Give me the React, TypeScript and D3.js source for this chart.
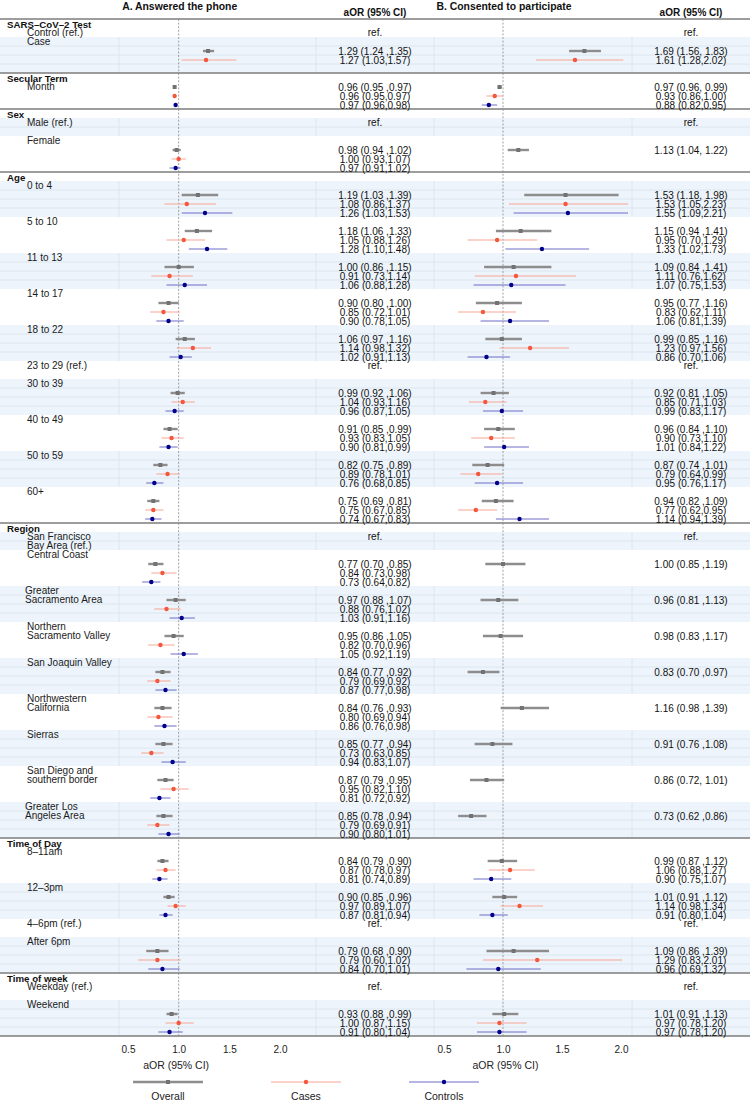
import React, { useRef, useEffect } from 'react';
import * as d3 from 'd3';

// Section headings, in table order
const sections = ['SARS–CoV–2 Test', 'Secular Term', 'Sex', 'Age', 'Region', 'Time of Day', 'Time of week'];

// Table items ("\n" puts a label over two rows)
const itemLabels = [
  'Control (ref.)', 'Case',
  'Month',
  'Male (ref.)', 'Female',
  '0 to 4', '5 to 10', '11 to 13', '14 to 17', '18 to 22', '23 to 29 (ref.)', '30 to 39', '40 to 49', '50 to 59', '60+',
  'San Francisco\nBay Area (ref.)', 'Central Coast', 'Greater\nSacramento Area', 'Northern\nSacramento Valley',
  'San Joaquin Valley', 'Northwestern\nCalifornia', 'Sierras', 'San Diego and\nsouthern border', 'Greater Los\nAngeles Area',
  '8–11am', '12–3pm', '4–6pm (ref.)', 'After 6pm',
  'Weekday (ref.)', 'Weekend',
];
const itemSection = [0, 0, 1, 2, 2, 3, 3, 3, 3, 3, 3, 3, 3, 3, 3, 4, 4, 4, 4, 4, 4, 4, 4, 4, 5, 5, 5, 5, 6, 6];

// aOR [estimate, lower, upper] per item; null = reference level / not estimated
type Est = number[] | null;

const phoneOverall: Est[] = [
  null, [1.29, 1.24, 1.35],
  [0.96, 0.95, 0.97],
  null, [0.98, 0.94, 1.02],
  [1.19, 1.03, 1.39], [1.18, 1.06, 1.33], [1.00, 0.86, 1.15], [0.90, 0.80, 1.00], [1.06, 0.97, 1.16], null,
  [0.99, 0.92, 1.06], [0.91, 0.85, 0.99], [0.82, 0.75, 0.89], [0.75, 0.69, 0.81],
  null, [0.77, 0.70, 0.85], [0.97, 0.88, 1.07], [0.95, 0.86, 1.05], [0.84, 0.77, 0.92], [0.84, 0.76, 0.93],
  [0.85, 0.77, 0.94], [0.87, 0.79, 0.95], [0.85, 0.78, 0.94],
  [0.84, 0.79, 0.90], [0.90, 0.85, 0.96], null, [0.79, 0.68, 0.90],
  null, [0.93, 0.88, 0.99],
];
const phoneCases: Est[] = [
  null, [1.27, 1.03, 1.57],
  [0.96, 0.95, 0.97],
  null, [1.00, 0.93, 1.07],
  [1.08, 0.86, 1.37], [1.05, 0.88, 1.26], [0.91, 0.73, 1.14], [0.85, 0.72, 1.01], [1.14, 0.98, 1.32], null,
  [1.04, 0.93, 1.16], [0.93, 0.83, 1.05], [0.89, 0.78, 1.01], [0.75, 0.67, 0.85],
  null, [0.84, 0.73, 0.98], [0.88, 0.76, 1.02], [0.82, 0.70, 0.96], [0.79, 0.69, 0.92], [0.80, 0.69, 0.94],
  [0.73, 0.63, 0.85], [0.95, 0.82, 1.10], [0.79, 0.69, 0.91],
  [0.87, 0.78, 0.97], [0.97, 0.89, 1.07], null, [0.79, 0.60, 1.02],
  null, [1.00, 0.87, 1.15],
];
const phoneControls: Est[] = [
  null, null,
  [0.97, 0.96, 0.98],
  null, [0.97, 0.91, 1.02],
  [1.26, 1.03, 1.53], [1.28, 1.10, 1.48], [1.06, 0.88, 1.28], [0.90, 0.78, 1.05], [1.02, 0.91, 1.13], null,
  [0.96, 0.87, 1.05], [0.90, 0.81, 0.99], [0.76, 0.68, 0.85], [0.74, 0.67, 0.83],
  null, [0.73, 0.64, 0.82], [1.03, 0.91, 1.16], [1.05, 0.92, 1.19], [0.87, 0.77, 0.98], [0.86, 0.76, 0.98],
  [0.94, 0.83, 1.07], [0.81, 0.72, 0.92], [0.90, 0.80, 1.01],
  [0.81, 0.74, 0.89], [0.87, 0.81, 0.94], null, [0.84, 0.70, 1.01],
  null, [0.91, 0.80, 1.04],
];

const consentOverall: Est[] = [
  null, [1.69, 1.56, 1.83],
  [0.97, 0.96, 0.99],
  null, [1.13, 1.04, 1.22],
  [1.53, 1.18, 1.98], [1.15, 0.94, 1.41], [1.09, 0.84, 1.41], [0.95, 0.77, 1.16], [0.99, 0.85, 1.16], null,
  [0.92, 0.81, 1.05], [0.96, 0.84, 1.10], [0.87, 0.74, 1.01], [0.94, 0.82, 1.09],
  null, [1.00, 0.85, 1.19], [0.96, 0.81, 1.13], [0.98, 0.83, 1.17], [0.83, 0.70, 0.97], [1.16, 0.98, 1.39],
  [0.91, 0.76, 1.08], [0.86, 0.72, 1.01], [0.73, 0.62, 0.86],
  [0.99, 0.87, 1.12], [1.01, 0.91, 1.12], null, [1.09, 0.86, 1.39],
  null, [1.01, 0.91, 1.13],
];
const consentCases: Est[] = [
  null, [1.61, 1.28, 2.02],
  [0.93, 0.86, 1.00],
  null, null,
  [1.53, 1.05, 2.23], [0.95, 0.70, 1.29], [1.11, 0.76, 1.62], [0.83, 0.62, 1.11], [1.23, 0.97, 1.56], null,
  [0.85, 0.71, 1.03], [0.90, 0.73, 1.10], [0.79, 0.64, 0.99], [0.77, 0.62, 0.95],
  null, null, null, null, null, null, null, null, null,
  [1.06, 0.88, 1.27], [1.14, 0.98, 1.34], null, [1.29, 0.83, 2.01],
  null, [0.97, 0.78, 1.20],
];
const consentControls: Est[] = [
  null, null,
  [0.88, 0.82, 0.95],
  null, null,
  [1.55, 1.09, 2.21], [1.33, 1.02, 1.73], [1.07, 0.75, 1.53], [1.06, 0.81, 1.39], [0.86, 0.70, 1.06], null,
  [0.99, 0.83, 1.17], [1.01, 0.84, 1.22], [0.95, 0.76, 1.17], [1.14, 0.94, 1.39],
  null, null, null, null, null, null, null, null, null,
  [0.90, 0.75, 1.07], [0.91, 0.80, 1.04], null, [0.96, 0.69, 1.32],
  null, [0.97, 0.78, 1.20],
];
// items whose consent "overall" label is written "(lo, hi)" instead of "(lo ,hi)"
const consentSpacedAfterComma = [1, 2, 4, 5, 22];

const panelTitles = ['A. Answered the phone', 'B. Consented to participate'];
const tickValues = [0.5, 1.0, 1.5, 2.0];
const legendLabels = ['Overall', 'Cases', 'Controls'];

const FONT = "'Liberation Sans Narrow', 'Arial Narrow', 'Liberation Sans', Arial, sans-serif";
const W = 750;
const H = 1102;

const ForestPlot = () => {
  const ref = useRef<SVGSVGElement>(null);

  useEffect(() => {
    const svg = d3.select(ref.current);
    svg.selectAll('*').remove();

    const tableTop = 19;
    const rowH = 9;
    const rowY = (r: number) => tableTop + r * rowH;

    // rows taken by each item (label row + 3 estimate rows, fewer for refs / Month)
    const itemRowSpan = itemLabels.map((lab, i) => {
      if (i === 0) return 1;
      if (lab === 'Month') return 3;
      if (lab.includes('(ref.)')) return 2;
      return 4;
    });

    // work out row positions
    const sectionRow: number[] = [];
    const itemStart: number[] = [];
    let r = 0;
    sections.forEach((_, si) => {
      sectionRow.push(r);
      r += 1;
      itemLabels.forEach((_, i) => {
        if (itemSection[i] === si) {
          itemStart[i] = r;
          r += itemRowSpan[i];
        }
      });
    });
    const totalRows = r;
    const tableBottom = rowY(totalRows);

    const xA = d3.scaleLinear().domain([0.5, 2]).range([128, 280]);
    const xB = d3.scaleLinear().domain([0.5, 2]).range([444, 621]);
    const gridXs = [119, 316, 434, 632];

    const f2 = d3.format('.2f');
    const series = [
      { lineColor: '#8d8d8d', lineWidth: 2.4, markColor: '#727272', square: true },
      { lineColor: '#f8a594', lineWidth: 1, markColor: '#f4573c', square: false },
      { lineColor: '#6c6cc8', lineWidth: 1, markColor: '#00008b', square: false },
    ];

    const panels = [
      {
        x: xA, clip: [119, 316], textX: 375, titleShift: -2.5,
        data: [phoneOverall, phoneCases, phoneControls],
        fmt: (d: number[], s: number) => s === 0
          ? `${f2(d[0])} (${f2(d[1])} ,${f2(d[2])})`
          : `${f2(d[0])} (${f2(d[1])},${f2(d[2])})`,
      },
      {
        x: xB, clip: [434, 628], textX: 691, titleShift: 2.5,
        data: [consentOverall, consentCases, consentControls],
        fmt: (d: number[], s: number, i: number) => {
          if (s !== 0) return `${f2(d[0])} (${f2(d[1])},${f2(d[2])})`;
          return consentSpacedAfterComma.includes(i)
            ? `${f2(d[0])} (${f2(d[1])}, ${f2(d[2])})`
            : `${f2(d[0])} (${f2(d[1])} ,${f2(d[2])})`;
        },
      },
    ];

    // Shaded bands for every other item
    itemLabels.forEach((_, i) => {
      if (i % 2 === 0) return;
      const y0 = rowY(itemStart[i]);
      const y1 = rowY(itemStart[i] + itemRowSpan[i]);
      svg.append('rect')
        .attr('x', 0).attr('y', y0)
        .attr('width', W).attr('height', y1 - y0)
        .attr('fill', '#edf4fb');
      for (let k = 1; k < itemRowSpan[i]; k++) {
        svg.append('line')
          .attr('x1', 0).attr('x2', W)
          .attr('y1', rowY(itemStart[i] + k)).attr('y2', rowY(itemStart[i] + k))
          .attr('stroke', '#d8e3ee').attr('stroke-width', 0.8);
      }
      gridXs.forEach(gx => {
        svg.append('line')
          .attr('x1', gx).attr('x2', gx)
          .attr('y1', y0).attr('y2', y1)
          .attr('stroke', '#d8e3ee').attr('stroke-width', 0.8);
      });
    });

    // Section separators
    [...sectionRow, totalRows].forEach(sr => {
      svg.append('line')
        .attr('x1', 0).attr('x2', W)
        .attr('y1', rowY(sr)).attr('y2', rowY(sr))
        .attr('stroke', '#7d7d7d').attr('stroke-width', 1.6);
    });

    // Reference line at aOR = 1
    panels.forEach(p => {
      svg.append('line')
        .attr('x1', p.x(1)).attr('x2', p.x(1))
        .attr('y1', tableTop).attr('y2', tableBottom)
        .attr('stroke', '#8a8a8a').attr('stroke-width', 0.8)
        .attr('stroke-dasharray', '2,1.6');
    });

    const defs = svg.append('defs');
    panels.forEach((p, pi) => {
      defs.append('clipPath').attr('id', `plot-clip-${pi}`)
        .append('rect')
        .attr('x', p.clip[0]).attr('y', 0)
        .attr('width', p.clip[1] - p.clip[0]).attr('height', H);
    });

    // Confidence intervals, estimates and their labels
    panels.forEach((p, pi) => {
      const g = svg.append('g').attr('clip-path', `url(#plot-clip-${pi})`);
      p.data.forEach((arr, s) => {
        const st = series[s];
        arr.forEach((d, i) => {
          if (!d) return;
          const row = itemStart[i] + itemRowSpan[i] - 3 + s;
          const cy = rowY(row) + rowH / 2 + 0.5;
          g.append('line')
            .attr('x1', p.x(d[1])).attr('x2', p.x(d[2]))
            .attr('y1', cy).attr('y2', cy)
            .attr('stroke', st.lineColor).attr('stroke-width', st.lineWidth);
          if (st.square) {
            g.append('rect')
              .attr('x', p.x(d[0]) - 2).attr('y', cy - 2)
              .attr('width', 4).attr('height', 4)
              .attr('fill', st.markColor);
          } else {
            g.append('circle')
              .attr('cx', p.x(d[0])).attr('cy', cy).attr('r', 2.2)
              .attr('fill', st.markColor);
          }
          svg.append('text')
            .attr('x', p.textX).attr('y', rowY(row) + 8.6)
            .attr('text-anchor', 'middle')
            .attr('font-family', FONT).attr('font-size', 10)
            .attr('fill', '#111')
            .text(p.fmt(d, s, i));
        });
      });
      itemLabels.forEach((lab, i) => {
        if (!lab.includes('(ref.)')) return;
        svg.append('text')
          .attr('x', p.textX).attr('y', rowY(itemStart[i]) + 8.4)
          .attr('text-anchor', 'middle')
          .attr('font-family', FONT).attr('font-size', 10)
          .attr('fill', '#111')
          .text('ref.');
      });
    });

    // Row labels
    sections.forEach((s, si) => {
      svg.append('text')
        .attr('x', 7).attr('y', rowY(sectionRow[si]) + 9.4)
        .attr('font-family', FONT).attr('font-size', 9.7)
        .attr('font-weight', 'bold').attr('fill', '#111')
        .text(s);
    });
    itemLabels.forEach((lab, i) => {
      lab.split('\n').forEach((line, k) => {
        svg.append('text')
          .attr('x', lab.startsWith('Greater') ? 25 : 27)
          .attr('y', rowY(itemStart[i] + k) + 8.4)
          .attr('font-family', FONT).attr('font-size', 10)
          .attr('fill', '#1a1a1a')
          .text(line);
      });
    });

    // Panel headers
    panels.forEach((p, pi) => {
      svg.append('text')
        .attr('x', p.x(1) + 1).attr('y', 9.8)
        .attr('text-anchor', 'middle')
        .attr('font-family', FONT).attr('font-size', 10.4)
        .attr('font-weight', 'bold').attr('fill', '#111')
        .text(panelTitles[pi]);
      svg.append('text')
        .attr('x', p.textX).attr('y', 15.8)
        .attr('text-anchor', 'middle')
        .attr('font-family', FONT).attr('font-size', 10)
        .attr('font-weight', 'bold').attr('fill', '#111')
        .text('aOR (95% CI)');
    });

    // Axes under the table
    panels.forEach(p => {
      const ax = svg.append('g')
        .attr('transform', `translate(0,${tableBottom + 7})`)
        .call(d3.axisBottom(p.x).tickValues(tickValues).tickFormat(d3.format('.1f')).tickSize(0).tickPadding(3));
      ax.select('.domain').remove();
      ax.selectAll('text')
        .attr('font-family', FONT).attr('font-size', 10)
        .attr('fill', '#222');
      svg.append('text')
        .attr('x', p.x(1) + p.titleShift).attr('y', tableBottom + 32.8)
        .attr('text-anchor', 'middle')
        .attr('font-family', FONT).attr('font-size', 10.5)
        .attr('fill', '#222')
        .text('aOR (95% CI)');
    });

    // Legend
    const legendX = d3.scalePoint().domain(legendLabels).range([168, 444]);
    legendLabels.forEach((lab, s) => {
      const st = series[s];
      const cx = legendX(lab) as number;
      const ly = 1082;
      svg.append('line')
        .attr('x1', cx - 35).attr('x2', cx + 35)
        .attr('y1', ly).attr('y2', ly)
        .attr('stroke', st.lineColor).attr('stroke-width', st.lineWidth);
      if (st.square) {
        svg.append('rect')
          .attr('x', cx - 2).attr('y', ly - 2).attr('width', 4).attr('height', 4)
          .attr('fill', st.markColor);
      } else {
        svg.append('circle')
          .attr('cx', cx).attr('cy', ly).attr('r', 2.2)
          .attr('fill', st.markColor);
      }
      svg.append('text')
        .attr('x', cx).attr('y', 1100)
        .attr('text-anchor', 'middle')
        .attr('font-family', FONT).attr('font-size', 10.5)
        .attr('fill', '#222')
        .text(lab);
    });
  }, []);

  return (
    <div style={{ position: 'absolute', left: 0, top: 0 }}>
      <svg ref={ref} width={W} height={H} style={{ display: 'block', background: '#fff' }} />
    </div>
  );
};

export default function App() {
  return <ForestPlot />;
}
